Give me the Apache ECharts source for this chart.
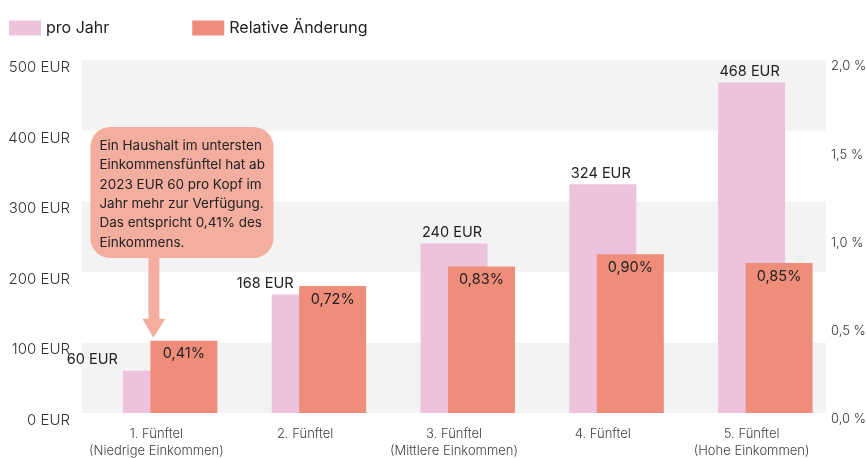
<!DOCTYPE html>
<html>
<head>
<meta charset="utf-8">
<script src="https://cdn.jsdelivr.net/npm/echarts@6/dist/echarts.min.js"></script>
<style>
  html, body { margin: 0; padding: 0; background: #fff; }
  #container { width: 866px; height: 458px; }
</style>
</head>
<body>
<div id="container"></div>
<script>
var categories = ['1. Fünftel\n(Niedrige Einkommen)', '2. Fünftel', '3. Fünftel\n(Mittlere Einkommen)', '4. Fünftel', '5. Fünftel\n(Hohe Einkommen)'];
var proJahr = [60, 168, 240, 324, 468];
var relativeAenderung = [0.41, 0.72, 0.83, 0.90, 0.85];
var eurTicks = [0, 100, 200, 300, 400, 500];
var pctTicks = [0, 0.5, 1.0, 1.5, 2.0];
var noteLines = ['Ein Haushalt im untersten', 'Einkommensfünftel hat ab', '2023 EUR 60 pro Kopf im', 'Jahr mehr zur Verfügung.', 'Das entspricht 0,41% des', 'Einkommens.'];

var FONT = 'Inter';
var PINK = '#EDC2DD';
var ORANGE = '#EE8D79';

function printChart() {
    var dom = document.getElementById('container');
    var myChart = echarts.init(dom, null, { renderer: 'canvas' });

    // pink labels that would collide with the orange bar are moved left
    var pinkLabelShift = [-64, -40, -2, -2, -2];

    var option = {
        animation: false,
        textStyle: { fontFamily: FONT },
        legend: {
            left: 4,
            top: 15,
            itemWidth: 32,
            itemHeight: 15,
            itemGap: 83,
            icon: 'rect',
            data: ['pro Jahr', 'Relative Änderung'],
            textStyle: { fontFamily: FONT, fontSize: 16, color: '#222' }
        },
        grid: { left: 82, right: 40, top: 60, bottom: 45, outerBoundsMode: 'none' },
        xAxis: [
            {
                type: 'category',
                data: categories,
                axisLine: { show: false },
                axisTick: { show: false },
                axisLabel: {
                    interval: 0,
                    margin: 12,
                    fontFamily: FONT,
                    fontSize: 13,
                    fontWeight: 300,
                    color: '#444',
                    lineHeight: 17.5
                }
            },
            { type: 'category', data: categories, show: false }
        ],
        yAxis: [
            {
                type: 'value',
                min: eurTicks[0],
                max: eurTicks[eurTicks.length - 1],
                interval: 100,
                splitLine: { show: false },
                splitArea: { show: true, areaStyle: { color: ['#F3F3F3', '#FFFFFF'] } },
                axisLabel: {
                    margin: 12,
                    fontFamily: FONT,
                    fontSize: 15,
                    fontWeight: 300,
                    color: '#333',
                    verticalAlign: 'top',
                    formatter: function (v) { return v + ' EUR'; }
                }
            },
            {
                type: 'value',
                min: pctTicks[0],
                max: pctTicks[pctTicks.length - 1],
                interval: 0.5,
                splitLine: { show: false },
                axisLabel: {
                    margin: 5,
                    fontFamily: FONT,
                    fontSize: 13,
                    fontWeight: 300,
                    color: '#333',
                    verticalAlign: 'top',
                    formatter: function (v) { return v.toFixed(1).replace('.', ',') + ' %'; }
                }
            }
        ],
        series: [
            {
                name: 'pro Jahr',
                type: 'bar',
                xAxisIndex: 0,
                yAxisIndex: 0,
                barWidth: 67,
                itemStyle: { color: PINK },
                data: proJahr.map(function (v, i) {
                    return { value: v, label: { offset: [pinkLabelShift[i], 0] } };
                }),
                label: {
                    show: true,
                    position: 'top',
                    distance: 3,
                    fontFamily: FONT,
                    fontSize: 14.5,
                    color: '#222',
                    formatter: function (p) { return p.value + ' EUR'; }
                }
            },
            {
                // empty slot so the orange bars sit shifted to the right
                name: 'spacer',
                type: 'bar',
                xAxisIndex: 1,
                yAxisIndex: 1,
                barWidth: 67,
                barGap: '-18%',
                data: categories.map(function () { return null; })
            },
            {
                name: 'Relative Änderung',
                type: 'bar',
                xAxisIndex: 1,
                yAxisIndex: 1,
                barWidth: 67,
                barGap: '-18%',
                itemStyle: { color: ORANGE },
                data: relativeAenderung,
                label: {
                    show: true,
                    position: 'insideTop',
                    distance: 6,
                    fontFamily: FONT,
                    fontSize: 14.5,
                    color: '#222',
                    formatter: function (p) { return p.value.toFixed(2).replace('.', ',') + '%'; }
                }
            }
        ]
    };
    myChart.setOption(option, true);

    // annotation anchored to the first category
    var cx = myChart.convertToPixel({ xAxisIndex: 0 }, 0);
    var tipY = myChart.convertToPixel({ yAxisIndex: 1 }, relativeAenderung[0]) - 3;
    var boxTop = 127, boxH = 131;
    var boxLeft = cx - 66, boxW = 183;
    var headTop = tipY - 19;
    var NOTE = '#F3AE9F';

    myChart.setOption({
        graphic: [
            {
                type: 'rect',
                shape: { x: boxLeft, y: boxTop, width: boxW, height: boxH, r: 20 },
                style: { fill: NOTE },
                z: 100
            },
            {
                type: 'rect',
                shape: { x: cx - 8, y: boxTop + boxH - 1, width: 11, height: headTop - (boxTop + boxH) + 2 },
                style: { fill: NOTE },
                z: 100
            },
            {
                type: 'polygon',
                shape: { points: [[cx - 14, headTop], [cx + 9, headTop], [cx - 3, tipY]] },
                style: { fill: NOTE },
                z: 100
            },
            {
                type: 'text',
                x: boxLeft + 9,
                y: boxTop + 9,
                style: {
                    text: noteLines.join('\n'),
                    font: '13.5px ' + FONT,
                    lineHeight: 19.4,
                    fill: '#222'
                },
                z: 101
            }
        ]
    });
}

printChart();
</script>
</body>
</html>
